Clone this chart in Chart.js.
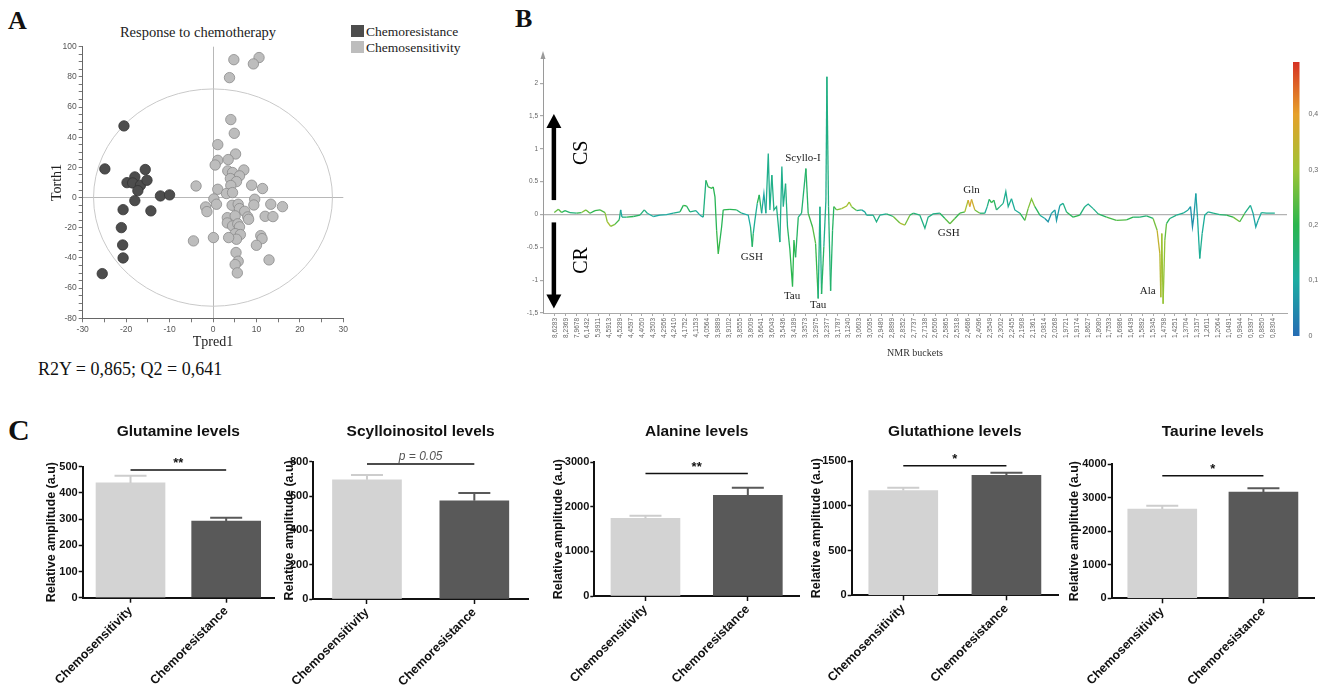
<!DOCTYPE html>
<html lang="en">
<head>
<meta charset="utf-8">
<title>Response to chemotherapy</title>
<script src="https://cdn.jsdelivr.net/npm/chart.js@4.4.1/dist/chart.umd.min.js"></script>
<style>
  html, body { margin: 0; padding: 0; background: #fff; }
  body { position: relative; width: 1319px; height: 695px; overflow: hidden; }
  canvas, .txt, .swatch { position: absolute; }
  .txt { line-height: 1; white-space: nowrap; color: #111; font-family: "Liberation Serif", "Times New Roman", serif; }
  .letter { font-weight: bold; }
</style>
</head>
<body>
<div class="txt letter" style="left:8px;top:8px;font-size:26px;">A</div>
<div class="txt letter" style="left:515px;top:6px;font-size:26px;">B</div>
<div class="txt letter" style="left:8px;top:415px;font-size:30px;">C</div>

<div class="txt" style="left:98px;top:25px;width:200px;text-align:center;font-size:14.5px;color:#222;">Response to chemotherapy</div>
<div class="swatch" style="left:351px;top:25px;width:13px;height:12px;background:#4d4d4d;"></div>
<div class="txt" style="left:366px;top:24.7px;font-size:13.5px;color:#222;">Chemoresistance</div>
<div class="swatch" style="left:351px;top:41px;width:13px;height:12px;background:#bdbdbd;"></div>
<div class="txt" style="left:366px;top:40.7px;font-size:13.5px;color:#222;">Chemosensitivity</div>
<div class="txt" style="left:38px;top:360px;font-size:18px;">R2Y = 0,865; Q2 = 0,641</div>

<canvas id="scoresChart" style="left:45px;top:0px;width:310px;height:355px;" width="310" height="355"></canvas>
<canvas id="loadingsChart" style="left:520px;top:40px;width:770px;height:323px;" width="770" height="323"></canvas>
<canvas id="colorbarChart" style="left:1293px;top:50px;width:26px;height:295px;" width="26" height="295"></canvas>

<canvas id="glnChart" style="left:40px;top:415px;width:240px;height:280px;" width="240" height="280"></canvas>
<canvas id="scyChart" style="left:278px;top:415px;width:254px;height:280px;" width="254" height="280"></canvas>
<canvas id="alaChart" style="left:547px;top:415px;width:257px;height:280px;" width="257" height="280"></canvas>
<canvas id="gshChart" style="left:805px;top:415px;width:258px;height:280px;" width="258" height="280"></canvas>
<canvas id="tauChart" style="left:1063px;top:415px;width:256px;height:280px;" width="256" height="280"></canvas>

<script>
// Panel A - OPLS-DA scores
const crTpred = [-20.5, -24.9, -15.6, -18.0, -19.8, -18.5, -16.7, -15.2, -17.3, -18.0, -12.1, -10.0, -14.3, -20.7, -21.1, -20.8, -20.7, -25.5];
const crTorth = [47.5, 19.0, 18.6, 13.7, 9.9, 9.7, 8.2, 11.5, 4.6, -2.0, 1.1, 1.8, -8.8, -8.0, -19.9, -31.4, -40.0, -50.4];
const csTpred = [4.8, 10.6, 9.3, 3.8, 4.1, 4.9, 1.1, 1.1, 5.2, 3.5,
    0.5, 3.4, 4.5, 7.1, 6.1, 4.0, 5.4, 4.1, 8.9, 11.4,
    -3.9, 1.1, 3.1, 4.5, 0.2, 0.8, 9.6, 9.4, 13.3, 16.0,
    4.4, 5.8, 6.1, 7.3, -1.7, -1.4, 3.3, 5.1, 8.0, 8.2,
    12.0, 13.8, 3.3, 4.5, 5.7, 6.1, 5.1, 6.3, 5.4, 3.6,
    0.1, -4.5, 11.0, 11.3, 10.0, 5.3, 5.8, 5.1, 5.6, 12.9];
const csTorth = [91.4, 92.8, 88.6, 79.5, 51.7, 42.6, 35.1, 24.7, 28.9, 25.2,
    21.6, 17.7, 16.6, 18.3, 14.4, 12.6, 10.6, 8.0, 8.2, 6.0,
    7.7, 5.5, 2.7, 3.3, -0.9, -4.4, -1.1, -4.9, -4.4, -6.0,
    -5.1, -4.4, -7.3, -9.1, -6.2, -9.3, -13.3, -12.1, -12.8, -14.4,
    -12.4, -12.6, -16.8, -18.8, -17.4, -19.4, -23.9, -24.5, -27.6, -26.5,
    -26.5, -28.7, -25.2, -27.2, -31.6, -36.4, -42.2, -44.4, -49.9, -41.3];
const ellipseRadius = [27.5, 72]; // Hotelling T2 (Tpred, Torth)

// Panel B - loadings along NMR buckets
const bucketLabels = ["8,6283", "8,2369", "7,9678", "6,1432", "5,9911", "4,5913", "4,5289", "4,4597", "4,4050", "4,3503",
    "4,2956", "4,2410", "4,1752", "4,1153", "4,0564", "3,9889", "3,9102", "3,8555", "3,8009", "3,6641",
    "3,6043", "3,5436", "3,4189", "3,3573", "3,2975", "3,2377", "3,1787", "3,1240", "3,0603", "3,0095",
    "2,9480", "2,8899", "2,8352", "2,7737", "2,7138", "2,6506", "2,5865", "2,5318", "2,4686", "2,4096",
    "2,3549", "2,3002", "2,2455", "2,1908", "2,1361", "2,0814", "2,0268", "1,9721", "1,9174", "1,8627",
    "1,8080", "1,7533", "1,6986", "1,6439", "1,5892", "1,5345", "1,4798", "1,4251", "1,3704", "1,3157",
    "1,2611", "1,2064", "1,0491", "0,9944", "0,9397", "0,8850", "0,8304"];
const nmrPos = [-0.06, 0.31, 0.61, 0.92, 1.38, 1.99, 2.45, 2.85, 3.22, 3.68,
    4.14, 4.60, 4.81, 5.12, 5.51, 5.91, 6.04, 6.16, 6.59, 7.20,
    7.81, 8.21, 8.49, 9.04, 9.65, 10.26, 10.88, 11.49, 11.80, 12.10,
    12.41, 12.96, 13.33, 13.63, 13.88, 14.09, 14.40, 14.55, 14.71, 14.86,
    15.01, 15.17, 15.32, 15.47, 16.08, 16.70, 17.16, 17.77, 17.98, 18.14,
    18.23, 18.38, 18.60, 18.78, 19.00, 19.21, 19.39, 19.61, 19.76, 19.94,
    20.13, 20.37, 20.68, 20.86, 20.99, 21.20, 21.38, 21.60, 21.84, 21.97,
    22.12, 22.37, 22.67, 23.07, 23.28, 23.68, 23.96, 24.20, 24.36, 24.51,
    24.72, 24.91, 25.00, 25.15, 25.34, 25.52, 25.64, 25.89, 26.35, 26.81,
    27.05, 27.27, 27.73, 28.19, 28.49, 28.65, 29.26, 29.56, 29.87, 30.48, 31.10,
    31.71, 32.17, 32.63, 32.94, 33.55, 34.01, 34.31, 34.77, 35.39, 35.85,
    36.31, 36.76, 37.22, 37.68, 37.99, 38.14, 38.30, 38.60, 39.06, 39.52,
    39.74, 39.92, 40.13, 40.35, 40.59, 40.90, 41.21, 41.45, 41.67, 41.97,
    42.28, 42.74, 43.20, 43.50, 43.81, 44.12, 44.58, 45.04, 45.34, 45.65,
    45.96, 46.11, 46.42, 46.72, 47.03, 47.64, 48.25, 48.71, 49.02, 49.48,
    49.94, 50.71, 51.62, 52.54, 53.15, 53.77, 54.38, 54.99, 55.36, 55.61,
    55.70, 55.79, 55.91, 56.07, 56.22, 56.53, 57.14, 57.75, 58.21, 58.43,
    58.61, 58.73, 58.92, 59.07, 59.28, 59.50, 59.74, 60.05, 60.51, 61.12,
    61.73, 62.35, 62.96, 63.42, 63.94, 64.18, 64.43, 64.64, 64.95, 65.41, 66.18];
const nmrLoading = [0.03, 0.08, 0.03, 0.06, 0.03, 0.02, 0.03, 0.07, 0.02, 0.06,
    0.07, 0.03, -0.11, -0.18, -0.15, -0.08, 0.07, -0.04, -0.04, -0.03,
    -0.01, 0.07, 0.02, -0.03, -0.01, 0.00, 0.02, 0.04, 0.14, 0.13,
    0.04, 0.06, -0.01, -0.04, 0.52, 0.42, 0.40, 0.42, 0.27, -0.24,
    -0.60, -0.39, -0.19, 0.07, 0.08, 0.07, 0.02, -0.01, -0.19, -0.49,
    -0.29, -0.09, 0.17, 0.30, 0.02, 0.32, 0.02, 0.93, 0.07, 0.60,
    0.07, 0.12, -0.42, 0.73, 0.12, 0.47, -0.19, -0.54, -1.10, -0.39,
    -0.65, -0.04, 0.02, 0.70, 0.02, -0.19, -0.44, -1.28, 0.12, -1.21,
    -0.49, 0.22, 2.10, 0.12, -1.16, -0.24, 0.12, 0.07, 0.09, 0.13,
    0.19, 0.12, 0.06, 0.07, 0.04, -0.01, -0.01, -0.11, -0.01, 0.01, -0.03,
    -0.13, -0.16, -0.01, 0.02, -0.01, -0.21, -0.04, 0.01, 0.02, -0.06,
    -0.14, -0.06, 0.02, 0.04, 0.22, 0.12, 0.23, 0.07, 0.02, 0.02,
    0.12, 0.23, 0.18, 0.22, 0.07, 0.12, 0.17, 0.35, 0.12, 0.24,
    0.07, 0.02, -0.09, 0.09, 0.24, 0.12, -0.01, -0.06, -0.11, 0.02,
    0.07, -0.09, 0.14, 0.17, 0.04, -0.04, -0.01, 0.12, 0.16, 0.09,
    0.01, -0.04, -0.09, -0.08, -0.04, -0.04, -0.02, -0.06, -0.24, -0.60,
    -1.26, -0.29, -1.36, -0.39, -0.14, -0.06, -0.01, 0.02, 0.07, 0.12,
    -0.19, -0.04, 0.32, -0.04, -0.67, -0.29, -0.01, 0.04, 0.02, 0.00,
    -0.01, -0.04, -0.11, 0.02, 0.14, 0.02, -0.19, -0.09, 0.03, 0.02, 0.02];
const nmrCorr = [0.22, 0.28, 0.20, 0.18, 0.15, 0.15, 0.25, 0.30, 0.20, 0.20,
    0.22, 0.25, 0.32, 0.30, 0.25, 0.20, 0.08, 0.10, 0.18, 0.20,
    0.15, 0.15, 0.12, 0.10, 0.10, 0.10, 0.10, 0.15, 0.22, 0.20,
    0.15, 0.12, 0.08, 0.10, 0.18, 0.20, 0.22, 0.20, 0.18, 0.20,
    0.22, 0.20, 0.18, 0.20, 0.20, 0.18, 0.12, 0.08, 0.12, 0.20,
    0.15, 0.08, 0.15, 0.25, 0.10, 0.08, 0.10, 0.15, 0.10, 0.15,
    0.12, 0.15, 0.12, 0.13, 0.12, 0.13, 0.15, 0.20, 0.20, 0.20,
    0.20, 0.15, 0.12, 0.20, 0.15, 0.28, 0.20, 0.22, 0.05, 0.20,
    0.15, 0.10, 0.16, 0.12, 0.18, 0.15, 0.20, 0.25, 0.30, 0.32,
    0.30, 0.30, 0.20, 0.08, 0.10, 0.12, 0.12, 0.15, 0.12, 0.12, 0.20,
    0.32, 0.33, 0.20, 0.15, 0.15, 0.12, 0.15, 0.12, 0.15, 0.20,
    0.28, 0.22, 0.20, 0.25, 0.38, 0.38, 0.40, 0.32, 0.20, 0.12,
    0.10, 0.18, 0.22, 0.20, 0.15, 0.15, 0.12, 0.12, 0.12, 0.12,
    0.10, 0.12, 0.25, 0.25, 0.30, 0.25, 0.12, 0.08, 0.05, 0.08,
    0.10, 0.05, 0.10, 0.12, 0.15, 0.22, 0.18, 0.12, 0.12, 0.12,
    0.15, 0.20, 0.25, 0.22, 0.18, 0.15, 0.15, 0.18, 0.35, 0.35,
    0.32, 0.30, 0.30, 0.28, 0.22, 0.15, 0.12, 0.12, 0.10, 0.06,
    0.05, 0.06, 0.08, 0.10, 0.12, 0.12, 0.10, 0.12, 0.12, 0.15,
    0.18, 0.22, 0.30, 0.15, 0.12, 0.10, 0.08, 0.10, 0.12, 0.12, 0.12];
const peakNames = ["GSH", "Scyllo-I", "Tau", "Tau", "Gln", "GSH", "Ala"];
const peakPos = [18.1, 22.8, 21.8, 24.2, 38.3, 36.2, 54.5];
const peakLoad = [-0.65, 0.86, -1.25, -1.38, 0.37, -0.29, -1.17];
const corrMax = 0.494;

// Panel C - metabolite levels (mean, SEM)
const groups = ["Chemosensitivity", "Chemoresistance"];
const glnMean = [438, 292], glnSem = [27, 13];
const scyMean = [695, 572], scySem = [27, 46];
const alaMean = [1740, 2260], alaSem = [60, 170];
const gshMean = [1170, 1340], gshSem = [30, 30];
const tauMean = [2660, 3160], tauSem = [100, 120];

const SANS = '"Liberation Sans", Arial, sans-serif';
const SERIF = '"Liberation Serif", "Times New Roman", serif';

// colour scale of the loadings (|r|)
const corrStops = [
    [0.00, [38, 108, 180]],
    [0.10, [28, 172, 162]],
    [0.20, [42, 182, 78]],
    [0.30, [158, 196, 52]],
    [0.40, [230, 160, 42]],
    [0.494, [214, 50, 36]],
];
function corrColor(v) {
    for (let i = 1; i < corrStops.length; i++) {
        if (v <= corrStops[i][0] || i === corrStops.length - 1) {
            const [a, ca] = corrStops[i - 1];
            const [b, cb] = corrStops[i];
            const t = Math.max(0, Math.min(1, (v - a) / (b - a)));
            const c = ca.map((x, k) => Math.round(x + (cb[k] - x) * t));
            return `rgb(${c[0]},${c[1]},${c[2]})`;
        }
    }
}

// size the plot area of a canvas to a page rectangle
function fitArea(canvas, area) {
    const left = canvas.offsetLeft, top = canvas.offsetTop;
    return {
        padding: { top: area.t - top, right: left + canvas.width - area.r, left: 0, bottom: 0 },
        yWidth: area.l - left,
        xHeight: top + canvas.height - area.b,
    };
}

document.addEventListener("DOMContentLoaded", function () {
    Chart.defaults.animation = false;
    Chart.defaults.font.family = SANS;
    initScoresChart();
    initLoadingsChart();
    initColorbar();
    initLevelChart("glnChart", "Glutamine levels", glnMean, glnSem, 500, 100, 487, "**", { l: 82.7, t: 466.7, r: 274, b: 597.7 });
    initLevelChart("scyChart", "Scylloinositol levels", scyMean, scySem, 800, 200, 786, "p = 0.05", { l: 313.3, t: 461.7, r: 528, b: 599 });
    initLevelChart("alaChart", "Alanine levels", alaMean, alaSem, 3000, 1000, 2750, "**", { l: 594.3, t: 462.3, r: 799, b: 596 });
    initLevelChart("gshChart", "Glutathione levels", gshMean, gshSem, 1500, 500, 1448, "*", { l: 851.7, t: 461, r: 1058, b: 595.3 });
    initLevelChart("tauChart", "Taurine levels", tauMean, tauSem, 4000, 1000, 3650, "*", { l: 1111.7, t: 464, r: 1314, b: 598.3 });
});

// Panel A
function initScoresChart() {
    const canvas = document.getElementById("scoresChart");
    const fit = fitArea(canvas, { l: 82.7, t: 46.7, r: 343.3, b: 318.3 });

    const ellipsePlugin = {
        id: "ellipse",
        beforeDatasetsDraw(chart) {
            const { ctx, scales: { x, y } } = chart;
            const cx = x.getPixelForValue(0), cy = y.getPixelForValue(0);
            ctx.save();
            ctx.strokeStyle = "#c9c9c9";
            ctx.lineWidth = 1;
            ctx.beginPath();
            ctx.ellipse(cx, cy, x.getPixelForValue(ellipseRadius[0]) - cx, cy - y.getPixelForValue(ellipseRadius[1]), 0, 0, Math.PI * 2);
            ctx.stroke();
            ctx.restore();
        },
    };

    new Chart(canvas, {
        type: "scatter",
        data: {
            datasets: [
                {
                    label: "Chemoresistance",
                    data: crTpred.map((v, i) => ({ x: v, y: crTorth[i] })),
                    backgroundColor: "#4d4d4d",
                    borderColor: "#333",
                    borderWidth: 0.8,
                    pointRadius: 5.2,
                },
                {
                    label: "Chemosensitivity",
                    data: csTpred.map((v, i) => ({ x: v, y: csTorth[i] })),
                    backgroundColor: "#bdbdbd",
                    borderColor: "#8a8a8a",
                    borderWidth: 0.8,
                    pointRadius: 5.2,
                },
            ],
        },
        options: {
            responsive: false,
            layout: { padding: fit.padding },
            plugins: { legend: { display: false }, tooltip: { enabled: false } },
            scales: {
                x: {
                    type: "linear", min: -30, max: 30,
                    afterFit: (s) => { s.height = fit.xHeight; },
                    ticks: {
                        stepSize: 5, autoSkip: false, maxRotation: 0, padding: 2,
                        color: "#555", font: { size: 8.5 },
                        callback: (v) => (v % 10 === 0 ? v : ""),
                    },
                    grid: {
                        color: (c) => (c.tick && c.tick.value === 0 ? "#b8b8b8" : "rgba(0,0,0,0)"),
                        tickColor: "#777", tickLength: 4,
                    },
                    border: { color: "#666" },
                    title: { display: true, text: "Tpred1", color: "#222", font: { family: SERIF, size: 14 } },
                },
                y: {
                    type: "linear", min: -80, max: 100,
                    afterFit: (s) => { s.width = fit.yWidth; },
                    ticks: {
                        stepSize: 5, autoSkip: false, padding: 2,
                        color: "#555", font: { size: 8.5 },
                        callback: (v) => (v % 20 === 0 ? v : ""),
                    },
                    grid: {
                        color: (c) => (c.tick && c.tick.value === 0 ? "#b8b8b8" : "rgba(0,0,0,0)"),
                        tickColor: "#777", tickLength: 4,
                    },
                    border: { color: "#666" },
                    title: { display: true, text: "Torth1", color: "#222", font: { family: SERIF, size: 14 } },
                },
            },
        },
        plugins: [ellipsePlugin],
    });
}

// Panel B
function initLoadingsChart() {
    const canvas = document.getElementById("loadingsChart");
    const fit = fitArea(canvas, { l: 543, t: 55, r: 1287, b: 313 });

    function arrow(ctx, x, y0, y1) {
        const dir = y1 < y0 ? -1 : 1;
        ctx.beginPath();
        ctx.moveTo(x, y0);
        ctx.lineTo(x, y1 - dir * 10);
        ctx.lineWidth = 4.5;
        ctx.stroke();
        ctx.beginPath();
        ctx.moveTo(x, y1);
        ctx.lineTo(x - 7.5, y1 - dir * 14);
        ctx.lineTo(x + 7.5, y1 - dir * 14);
        ctx.closePath();
        ctx.fill();
    }

    const annotations = {
        id: "nmrAnnotations",
        afterDatasetsDraw(chart) {
            const { ctx, chartArea, scales: { x, y } } = chart;
            ctx.save();
            ctx.fillStyle = "#222";
            ctx.font = "11px " + SERIF;
            ctx.textAlign = "center";
            ctx.textBaseline = "middle";
            peakNames.forEach((n, i) => ctx.fillText(n, x.getPixelForValue(peakPos[i]), y.getPixelForValue(peakLoad[i])));

            ctx.fillStyle = "#000";
            ctx.strokeStyle = "#000";
            const ax = x.getPixelForValue(-0.1);
            arrow(ctx, ax, y.getPixelForValue(0.22), y.getPixelForValue(1.53));
            arrow(ctx, ax, y.getPixelForValue(-0.12), y.getPixelForValue(-1.43));

            ctx.font = "20px " + SERIF;
            [["CS", 0.94], ["CR", -0.70]].forEach(([t, v]) => {
                ctx.save();
                ctx.translate(x.getPixelForValue(2.5), y.getPixelForValue(v));
                ctx.rotate(-Math.PI / 2);
                ctx.fillText(t, 0, 0);
                ctx.restore();
            });

            // arrow tip of the y axis
            ctx.fillStyle = "#9a9a9a";
            ctx.beginPath();
            ctx.moveTo(chartArea.left, chartArea.top - 4);
            ctx.lineTo(chartArea.left - 2.5, chartArea.top + 4);
            ctx.lineTo(chartArea.left + 2.5, chartArea.top + 4);
            ctx.closePath();
            ctx.fill();
            ctx.restore();
        },
    };

    new Chart(canvas, {
        type: "line",
        data: {
            datasets: [
                {
                    data: nmrPos.map((v, i) => ({ x: v, y: nmrLoading[i] })),
                    borderWidth: 1.3,
                    pointRadius: 0,
                    tension: 0,
                    segment: {
                        borderColor: (c) => corrColor((nmrCorr[c.p0DataIndex] + nmrCorr[c.p1DataIndex]) / 2),
                    },
                },
            ],
        },
        options: {
            responsive: false,
            layout: { padding: fit.padding },
            plugins: { legend: { display: false }, tooltip: { enabled: false } },
            scales: {
                x: {
                    type: "linear", min: -1.1, max: 67.3,
                    afterFit: (s) => { s.height = fit.xHeight; },
                    afterBuildTicks: (s) => { s.ticks = bucketLabels.map((_, i) => ({ value: i })); },
                    ticks: {
                        autoSkip: false, minRotation: 90, maxRotation: 90, padding: 2,
                        color: "#666", font: { size: 6.5 },
                        callback: (v, i) => bucketLabels[i],
                    },
                    grid: { drawOnChartArea: false, tickColor: "#aaa", tickLength: 3 },
                    border: { color: "#aaa" },
                    title: { display: true, text: "NMR buckets", color: "#333", font: { family: SERIF, size: 10 }, padding: { top: 2, bottom: 4 } },
                },
                y: {
                    type: "linear", min: -1.5, max: 2.43,
                    afterFit: (s) => { s.width = fit.yWidth; },
                    afterBuildTicks: (s) => { s.ticks = [-1.5, -1, -0.5, 0, 0.5, 1, 1.5, 2].map((v) => ({ value: v })); },
                    ticks: {
                        padding: 2, color: "#666", font: { size: 6.5 },
                        callback: (v) => (Math.abs(v) === 0.5 ? String(v) : String(v).replace(".", ",")),
                    },
                    grid: {
                        color: (c) => (c.tick && c.tick.value === 0 ? "#b3b3b3" : "rgba(0,0,0,0)"),
                        lineWidth: 1.2, tickColor: "#aaa", tickLength: 3,
                    },
                    border: { color: "#9a9a9a" },
                },
            },
        },
        plugins: [annotations],
    });
}

function initColorbar() {
    const canvas = document.getElementById("colorbarChart");
    const gradientPlugin = {
        id: "gradient",
        beforeDatasetsDraw(chart) {
            const { ctx, chartArea: a } = chart;
            const g = ctx.createLinearGradient(0, a.bottom, 0, a.top);
            corrStops.forEach(([v]) => g.addColorStop(v / corrMax, corrColor(v)));
            ctx.save();
            ctx.fillStyle = g;
            ctx.fillRect(a.left, a.top, a.right - a.left, a.bottom - a.top);
            ctx.restore();
        },
    };
    new Chart(canvas, {
        type: "scatter",
        data: { datasets: [{ data: [] }] },
        options: {
            responsive: false,
            layout: { padding: { top: 12, bottom: 9, left: 0, right: 0 } },
            plugins: { legend: { display: false }, tooltip: { enabled: false } },
            scales: {
                x: { display: false, min: 0, max: 1 },
                y: {
                    position: "right", min: 0, max: corrMax,
                    afterFit: (s) => { s.width = 19.5; },
                    afterBuildTicks: (s) => { s.ticks = [0, 0.1, 0.2, 0.3, 0.4].map((v) => ({ value: v })); },
                    ticks: {
                        padding: 1, color: "#666", font: { size: 7 },
                        callback: (v) => (v === 0 ? "0" : v.toFixed(1).replace(".", ",")),
                    },
                    grid: { display: false },
                    border: { display: false },
                },
            },
        },
        plugins: [gradientPlugin],
    });
}

// Panel C
function initLevelChart(id, title, means, sems, yMax, yStep, sigLevel, sigText, area) {
    const canvas = document.getElementById(id);
    const fit = fitArea(canvas, area);
    const barColors = ["#d3d3d3", "#595959"];
    const errColors = ["#cdcdcd", "#595959"];

    const extras = {
        id: "levelExtras",
        afterDatasetsDraw(chart) {
            const { ctx, chartArea, scales: { x, y } } = chart;
            const meta = chart.getDatasetMeta(0);
            ctx.save();
            meta.data.forEach((bar, i) => {
                const top = y.getPixelForValue(means[i] + sems[i]);
                ctx.strokeStyle = errColors[i];
                ctx.lineWidth = 2;
                ctx.beginPath();
                ctx.moveTo(bar.x, bar.y);
                ctx.lineTo(bar.x, top);
                ctx.moveTo(bar.x - 16, top);
                ctx.lineTo(bar.x + 16, top);
                ctx.stroke();
            });

            const ys = y.getPixelForValue(sigLevel);
            const x0 = x.getPixelForValue(0), x1 = x.getPixelForValue(1);
            ctx.strokeStyle = "#111";
            ctx.lineWidth = 1.5;
            ctx.beginPath();
            ctx.moveTo(x0, ys);
            ctx.lineTo(x1, ys);
            ctx.stroke();
            ctx.textAlign = "center";
            ctx.textBaseline = "bottom";
            if (sigText.startsWith("p")) {
                ctx.fillStyle = "#555";
                ctx.font = "italic 12px " + SANS;
                ctx.fillText(sigText, (x0 + x1) / 2, ys - 1);
            } else {
                ctx.fillStyle = "#111";
                ctx.font = "bold 13px " + SANS;
                ctx.fillText(sigText, (x0 + x1) / 2, ys);
            }

            ctx.fillStyle = "#111";
            ctx.font = "bold 15.5px " + SANS;
            ctx.textBaseline = "middle";
            ctx.fillText(title, (chartArea.left + chartArea.right) / 2, 431.7 - canvas.offsetTop);
            ctx.restore();
        },
    };

    new Chart(canvas, {
        type: "bar",
        data: {
            labels: groups,
            datasets: [
                {
                    data: means,
                    backgroundColor: barColors,
                    borderWidth: 0,
                    barThickness: 69,
                },
            ],
        },
        options: {
            responsive: false,
            layout: { padding: fit.padding },
            plugins: { legend: { display: false }, tooltip: { enabled: false } },
            scales: {
                x: {
                    afterFit: (s) => { s.height = fit.xHeight; },
                    ticks: {
                        autoSkip: false, minRotation: 45, maxRotation: 45, padding: 1,
                        color: "#111", font: { size: 12.5, weight: "bold" },
                    },
                    grid: { offset: false, drawOnChartArea: false, tickColor: "#111", tickLength: 5, tickWidth: 1.5 },
                    border: { color: "#111", width: 2 },
                },
                y: {
                    min: 0, max: yMax,
                    afterFit: (s) => { s.width = fit.yWidth; },
                    ticks: {
                        stepSize: yStep, padding: 1, color: "#111", font: { size: 11, weight: "bold" },
                        callback: (v) => String(v),
                    },
                    grid: { drawOnChartArea: false, tickColor: "#111", tickLength: 4, tickWidth: 1.5 },
                    border: { color: "#111", width: 2 },
                    title: {
                        display: true, text: "Relative amplitude (a.u)", color: "#111",
                        font: { size: 12.5, weight: "bold" }, padding: { top: 4, bottom: 2 },
                    },
                },
            },
        },
        plugins: [extras],
    });
}
</script>
</body>
</html>
